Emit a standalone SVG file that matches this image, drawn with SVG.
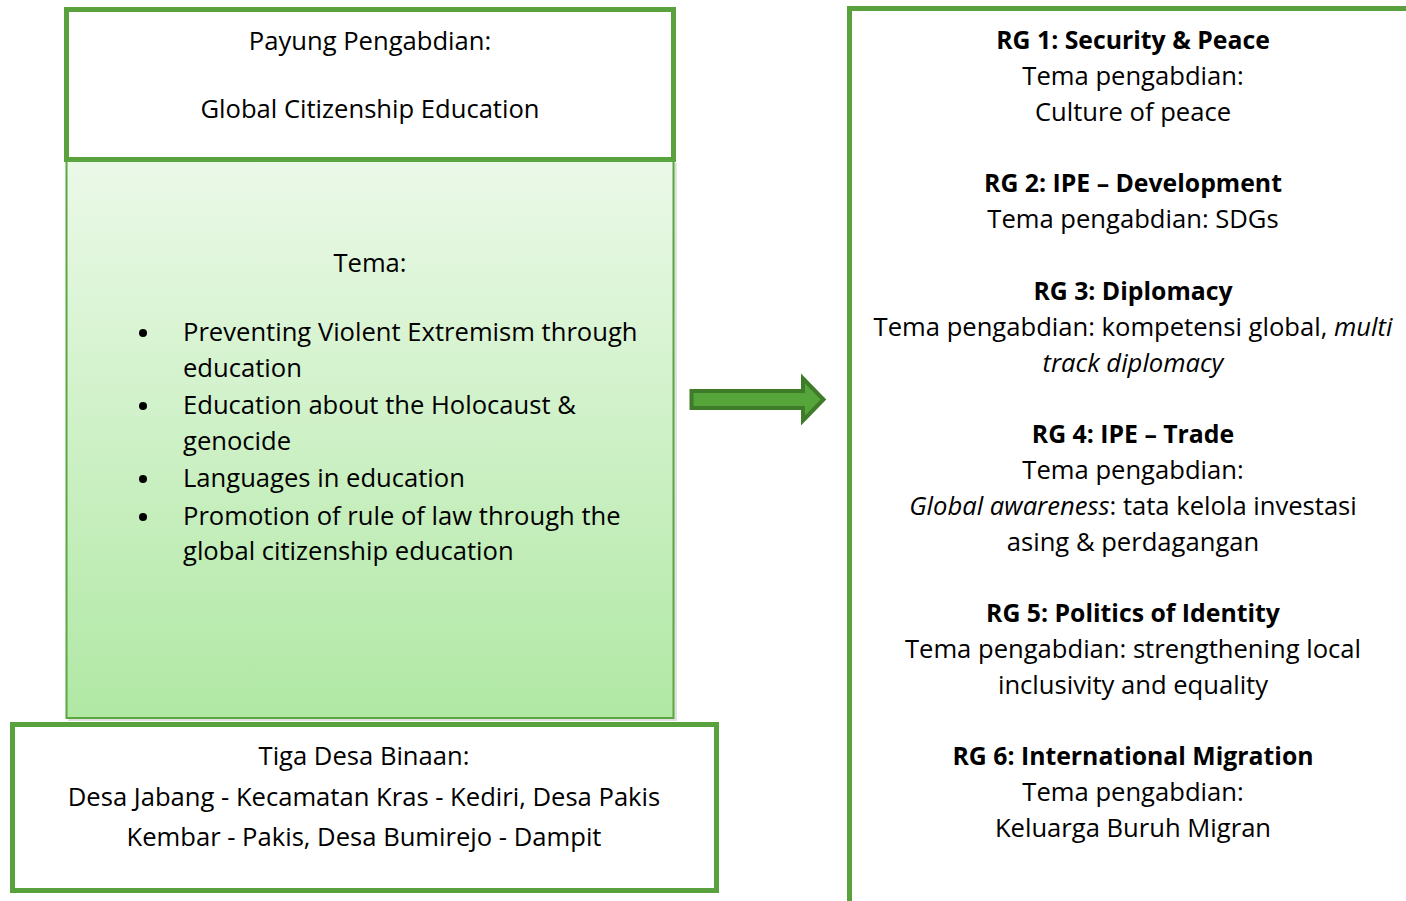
<svg xmlns="http://www.w3.org/2000/svg" width="1406" height="901" viewBox="0 0 1406 901">
<defs>
<linearGradient id="g" x1="0" y1="0" x2="0" y2="1">
<stop offset="0" stop-color="#ebf9e8"/>
<stop offset="1" stop-color="#b0e8a4"/>
</linearGradient>
<style>
text{font-family:"Open Sans",Lato,sans-serif;font-size:25.6px;fill:#000}
.c{text-anchor:middle}
.b{font-weight:bold;font-size:24.8px}
.box{fill:#fff;stroke:#58a13d;stroke-width:5}
</style>
</defs>
<g id="payung">
<rect class="box" x="66.5" y="9.5" width="607" height="150"/>
<text class="c" x="370" y="50">Payung Pengabdian:</text>
<text class="c" x="370" y="118">Global Citizenship Education</text>
</g>
<g id="tema">
<rect x="68" y="163" width="609" height="558" fill="#000" opacity="0.12"/>
<rect x="66.5" y="161" width="607" height="557" fill="url(#g)" stroke="#5aa640" stroke-width="2"/>
<text class="c" x="370" y="272">Tema:</text>
<g>
<circle cx="143" cy="333" r="4"/>
<circle cx="143" cy="406" r="4"/>
<circle cx="143" cy="479" r="4"/>
<circle cx="143" cy="517" r="4"/>
</g>
<text x="183" y="341">Preventing Violent Extremism through</text>
<text x="183" y="377">education</text>
<text x="183" y="414">Education about the Holocaust &amp;</text>
<text x="183" y="450">genocide</text>
<text x="183" y="487">Languages in education</text>
<text x="183" y="525">Promotion of rule of law through the</text>
<text x="183" y="560">global citizenship education</text>
</g>
<g id="desa">
<rect class="box" x="12.5" y="724.5" width="704" height="166"/>
<text class="c" x="364" y="765">Tiga Desa Binaan:</text>
<text class="c" x="364" y="806">Desa Jabang - Kecamatan Kras - Kediri, Desa Pakis</text>
<text class="c" x="364" y="846">Kembar - Pakis, Desa Bumirejo - Dampit</text>
</g>
<g id="connectors">
<path d="M691.5 391 H803 V378.5 L823.5 399.5 L803 420.5 V408 H691.5 Z" fill="#56a53a" stroke="#3f7c2a" stroke-width="4" stroke-linejoin="miter"/>
</g>
<g id="rg">
<rect class="box" x="849.5" y="8.5" width="600" height="920"/>
<text class="c b" x="1133" y="49">RG 1: Security &amp; Peace</text>
<text class="c" x="1133" y="85">Tema pengabdian:</text>
<text class="c" x="1133" y="121">Culture of peace</text>
<text class="c b" x="1133" y="192">RG 2: IPE – Development</text>
<text class="c" x="1133" y="228">Tema pengabdian: SDGs</text>
<text class="c b" x="1133" y="300">RG 3: Diplomacy</text>
<text class="c" x="1133" y="336">Tema pengabdian: kompetensi global, <tspan font-style="italic">multi</tspan></text>
<text class="c" x="1133" y="372" font-style="italic">track diplomacy</text>
<text class="c b" x="1133" y="443">RG 4: IPE – Trade</text>
<text class="c" x="1133" y="479">Tema pengabdian:</text>
<text class="c" x="1133" y="515"><tspan font-style="italic">Global awareness</tspan>: tata kelola investasi</text>
<text class="c" x="1133" y="551">asing &amp; perdagangan</text>
<text class="c b" x="1133" y="622">RG 5: Politics of Identity</text>
<text class="c" x="1133" y="658">Tema pengabdian: strengthening local</text>
<text class="c" x="1133" y="694">inclusivity and equality</text>
<text class="c b" x="1133" y="765">RG 6: International Migration</text>
<text class="c" x="1133" y="801">Tema pengabdian:</text>
<text class="c" x="1133" y="837">Keluarga Buruh Migran</text>
</g>
</svg>
